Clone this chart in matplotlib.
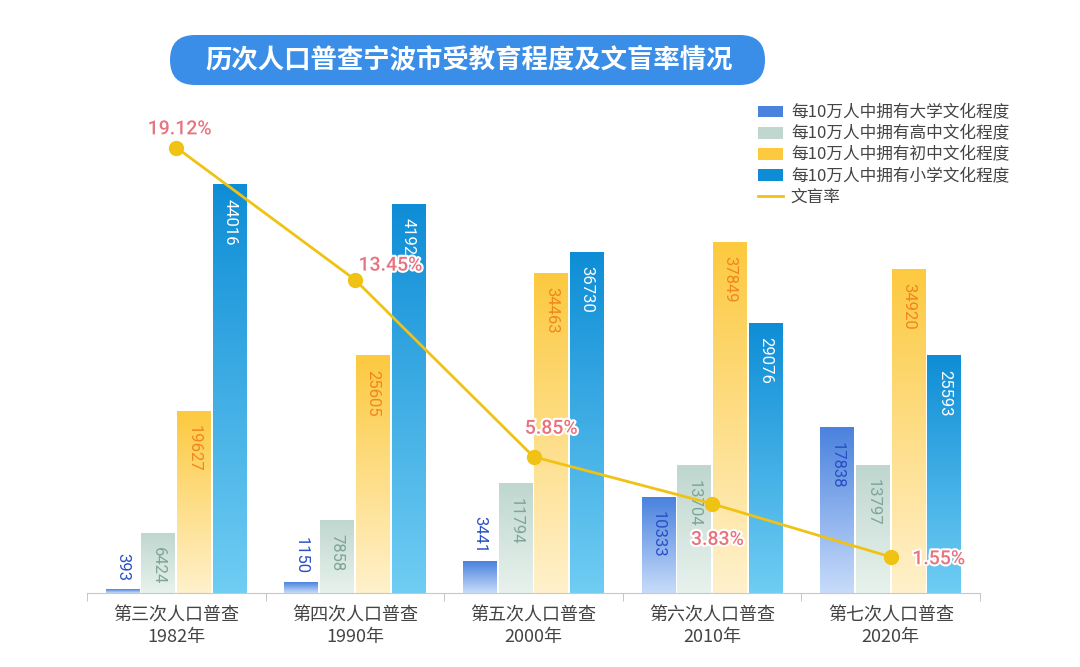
import numpy as np
import matplotlib
matplotlib.use('Agg')
import matplotlib.pyplot as plt
import matplotlib.patheffects as pe
from matplotlib.colors import LinearSegmentedColormap
from matplotlib.patches import FancyBboxPatch, Patch
from matplotlib.lines import Line2D

plt.rcParams['font.family'] = ['Noto Sans CJK SC', 'DejaVu Sans']

# data
censuses = ['第三次人口普查\n1982年', '第四次人口普查\n1990年', '第五次人口普查\n2000年',
            '第六次人口普查\n2010年', '第七次人口普查\n2020年']
college = [393, 1150, 3441, 10333, 17838]
high_school = [6424, 7858, 11794, 13704, 13797]
middle_school = [19627, 25605, 34463, 37849, 34920]
primary_school = [44016, 41921, 36730, 29076, 25593]
illiteracy = [19.12, 13.45, 5.85, 3.83, 1.55]

series_names = ['每10万人中拥有大学文化程度', '每10万人中拥有高中文化程度',
                '每10万人中拥有初中文化程度', '每10万人中拥有小学文化程度']
line_name = '文盲率'
title = '历次人口普查宁波市受教育程度及文盲率情况'

# gradient colours (top, bottom) and label colours per series
grads = [('#4a82de', '#c8dcfa'), ('#bfd7cf', '#e8f2ed'),
         ('#fcc93f', '#fff1cc'), ('#0e8dd6', '#70cdf3')]
label_colors = ['#2a4fc4', '#7ea597', '#f0861c', 'white']
line_color = '#f0c214'
pct_color = '#e8737f'

fig = plt.figure(figsize=(10.8, 6.67), dpi=100)
ax = fig.add_axes([87 / 1080, 74 / 667, 893 / 1080, 493 / 667])
ax2 = ax.twinx()

x = np.arange(len(censuses))
width = 0.19
offsets = [-0.3, -0.1, 0.1, 0.3]
all_series = [college, high_school, middle_school, primary_school]
ymax = 53180

grad_img = np.linspace(0, 1, 256).reshape(-1, 1)
for s, vals in enumerate(all_series):
    cmap = LinearSegmentedColormap.from_list('g%d' % s, [grads[s][1], grads[s][0]])
    for i, v in enumerate(vals):
        x0 = x[i] + offsets[s] - width / 2
        ax.imshow(grad_img, extent=[x0, x0 + width, 0, v], origin='lower',
                  aspect='auto', cmap=cmap, zorder=2)
        if v < 5000:
            ax.text(x[i] + offsets[s], v + 900, str(v), rotation=-90, ha='center', va='bottom',
                    color=label_colors[s], fontsize=12, family='Roboto', zorder=3)
        else:
            ax.text(x[i] + offsets[s], v - 1500, str(v), rotation=-90, ha='center', va='top',
                    color=label_colors[s], fontsize=12, family='Roboto', zorder=3)

ax.set_xlim(-0.5, len(censuses) - 0.5)
ax.set_ylim(0, ymax)
ax.set_xticks(x)
ax.set_xticklabels(censuses, fontsize=13, color='#444444', linespacing=1.25)
ax.set_xticks(np.arange(-0.5, len(censuses)), minor=True)
ax.tick_params(axis='x', which='major', length=0, pad=10)
ax.tick_params(axis='x', which='minor', length=6, color='#bbbbbb')
ax.set_yticks([])
for sp in ['top', 'left', 'right']:
    ax.spines[sp].set_visible(False)
ax.spines['bottom'].set_color('#c8c8c8')

# illiteracy line
ax2.plot(x, illiteracy, color=line_color, lw=2, marker='o', markersize=10, zorder=5)
ax2.set_ylim(0, 493 / 23.3)
ax2.set_yticks([])
for sp in ['top', 'left', 'right', 'bottom']:
    ax2.spines[sp].set_visible(False)

pct_offsets = [(0.02, 0.78), (0.2, 0.6), (0.1, 1.2), (0.03, -1.55), (0.27, -0.1)]
for i, v in enumerate(illiteracy):
    dx, dy = pct_offsets[i]
    ax2.text(x[i] + dx, v + dy, '%.2f%%' % v, ha='center', va='center', color=pct_color,
             fontsize=14, family='Roboto', fontweight='medium', zorder=6,
             path_effects=[pe.withStroke(linewidth=3, foreground='white')])

# title box
box = FancyBboxPatch((1.70, 5.82), 5.95, 0.50, boxstyle='round,pad=0,rounding_size=0.25',
                     transform=fig.dpi_scale_trans, fc='#3a8ee8', ec='none')
fig.patches.append(box)
fig.text(469 / 1080, (667 - 61) / 667, title, ha='center', va='center', color='white',
         fontsize=19, fontweight='bold')

# legend
handles = [Patch(facecolor=grads[s][0], edgecolor='none') for s in range(4)]
handles.append(Line2D([0], [0], color=line_color, lw=2))
fig.legend(handles, series_names + [line_name], loc='upper left',
           bbox_to_anchor=(750 / 1080, (667 - 96) / 667), frameon=False,
           fontsize=12, labelcolor='#444444', handlelength=1.45, handleheight=0.7,
           handletextpad=0.5, labelspacing=0.25, borderpad=0)

fig.savefig('out.png', dpi=100)
